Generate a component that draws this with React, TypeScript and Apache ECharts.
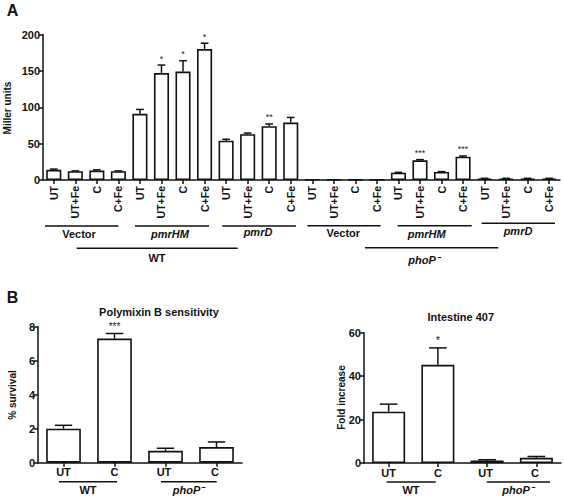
import React, { useEffect, useRef } from "react";
import * as echarts from "echarts";

// Panel A
const catsA = ["UT", "UT+Fe", "C", "C+Fe", "UT", "UT+Fe", "C", "C+Fe", "UT", "UT+Fe", "C", "C+Fe",
  "UT", "UT+Fe", "C", "C+Fe", "UT", "UT+Fe", "C", "C+Fe", "UT", "UT+Fe", "C", "C+Fe"];
const valuesA = [14, 12, 13, 12, 91, 147, 149, 180, 54, 63, 74, 79,
  0.8, 0.5, 0.5, 0.5, 10, 27, 11, 32, 2, 2, 2, 2];
const errA = [1, 0.5, 1, 0.5, 6, 11, 15, 8, 2, 1.5, 3, 7,
  0, 0, 0, 0, 0.5, 1, 0.5, 1, 0.3, 0.3, 0.3, 0.3];
const starsA = ["", "", "", "", "", "*", "*", "*", "", "", "**", "",
  "", "", "", "", "", "***", "", "***", "", "", "", ""];
const ticksA = [0, 50, 100, 150, 200];

// Panel B left: Polymixin B sensitivity
const catsB1 = ["UT", "C", "UT ", "C "];
const valuesB1 = [2.0, 7.3, 0.7, 0.92];
const errB1 = [0.2, 0.3, 0.15, 0.3];
const starsB1 = ["", "***", "", ""];

// Panel B right: Intestine 407
const catsB2 = ["UT", "C", "UT ", "C "];
const valuesB2 = [23.6, 45.2, 1.2, 2.4];
const errB2 = [3.5, 7.8, 0.3, 0.6];
const starsB2 = ["", "*", "", ""];

const FONT = "Liberation Sans, Arial, Helvetica, sans-serif";
const BLACK = "#111";

function errSeries(xi: number, vals: number[], errs: number[], stars: string[], capFrac: number, starSize: number) {
  return {
    type: "custom",
    xAxisIndex: xi,
    yAxisIndex: xi,
    z: 5,
    color: "#222",
    itemStyle: { color: "#222" },
    data: vals.map((v, i) => [i, v, errs[i]]),
    renderItem: (params: any, api: any) => {
      const i = api.value(0);
      const v = api.value(1);
      const e = api.value(2);
      const s = stars[i];
      const base = api.coord([i, v]);
      const top = api.coord([i, v + e]);
      const w = api.size([1, 0])[0] * capFrac / 2;
      const children: any[] = [];
      if (e > 0) {
        children.push({ type: "line", shape: { x1: base[0], y1: base[1], x2: top[0], y2: top[1] }, style: { stroke: BLACK, lineWidth: 1.5 } });
        children.push({ type: "line", shape: { x1: top[0] - w, y1: top[1], x2: top[0] + w, y2: top[1] }, style: { stroke: BLACK, lineWidth: 1.5 } });
      }
      if (s) {
        children.push({
          type: "text",
          style: { text: s, x: top[0], y: top[1] - 2, align: "center", verticalAlign: "bottom", fontSize: starSize, fontFamily: FONT, fill: "#222" },
        });
      }
      return { type: "group", children };
    },
  };
}

function barSeries(xi: number, vals: number[], width: string) {
  return {
    type: "bar",
    xAxisIndex: xi,
    yAxisIndex: xi,
    data: vals,
    barWidth: width,
    itemStyle: { color: "#fff", borderColor: BLACK, borderWidth: 1.6 },
    z: 3,
  };
}

const axisCommon = {
  axisLine: { show: true, lineStyle: { color: BLACK, width: 1.5 } },
  axisTick: { show: true, length: 4, lineStyle: { color: BLACK, width: 1.5 } },
  splitLine: { show: false },
};

function hline(x1: number, x2: number, y: number) {
  return { type: "line", shape: { x1, y1: y, x2, y2: y }, style: { stroke: BLACK, lineWidth: 1.5 } };
}
function label(text: string, x: number, y: number, italic = false, size = 11) {
  return {
    type: "text",
    style: { text, x, y, align: "center", verticalAlign: "middle", fontSize: size, fontWeight: "bold", fontStyle: italic ? "italic" : "normal", fontFamily: FONT, fill: BLACK },
  };
}
function vlabel(text: string, x: number, y: number, size = 10) {
  return {
    type: "text",
    x, y, rotation: Math.PI / 2,
    style: { text, x: 0, y: 0, align: "center", verticalAlign: "middle", fontSize: size, fontWeight: "bold", fontFamily: FONT, fill: BLACK },
  };
}

export default function App() {
  const ref = useRef<HTMLDivElement>(null);
  useEffect(() => {
    document.body.style.margin = "0";
    const chart = echarts.init(ref.current!, null, { renderer: "svg" });
    chart.setOption({
      animation: false,
      backgroundColor: "#fff",
      color: ["#222"],
      textStyle: { fontFamily: FONT },
      grid: [
        { left: 43, top: 34.5, width: 517, height: 145.5 },
        { left: 38, top: 326.7, width: 204, height: 136 },
        { left: 364, top: 332.7, width: 197, height: 130.3 },
      ],
      xAxis: [
        {
          gridIndex: 0, type: "category", data: catsA, ...axisCommon,
          axisTick: { ...axisCommon.axisTick, alignWithLabel: true },
          axisLabel: { rotate: 90, fontSize: 10.5, fontWeight: "bold", color: BLACK, margin: 6, interval: 0, fontFamily: FONT },
        },
        {
          gridIndex: 1, type: "category", data: catsB1, ...axisCommon,
          axisTick: { ...axisCommon.axisTick, alignWithLabel: true },
          axisLabel: { fontSize: 11, fontWeight: "bold", color: BLACK, margin: 4, interval: 0, fontFamily: FONT },
        },
        {
          gridIndex: 2, type: "category", data: catsB2, ...axisCommon,
          axisTick: { ...axisCommon.axisTick, alignWithLabel: true },
          axisLabel: { fontSize: 11, fontWeight: "bold", color: BLACK, margin: 4, interval: 0, fontFamily: FONT },
        },
      ],
      yAxis: [
        {
          gridIndex: 0, type: "value", min: ticksA[0], max: ticksA[ticksA.length - 1], interval: 50, ...axisCommon,
          axisLabel: { fontSize: 11, fontWeight: "bold", color: BLACK, margin: 3, fontFamily: FONT },
        },
        {
          gridIndex: 1, type: "value", min: 0, max: 8, interval: 2, ...axisCommon,
          axisLabel: { fontSize: 11, fontWeight: "bold", color: BLACK, margin: 3, fontFamily: FONT },
        },
        {
          gridIndex: 2, type: "value", min: 0, max: 60, interval: 20, ...axisCommon,
          axisLabel: { fontSize: 11, fontWeight: "bold", color: BLACK, margin: 3, fontFamily: FONT },
        },
      ],
      series: [
        barSeries(0, valuesA, "70%"),
        errSeries(0, valuesA, errA, starsA, 0.36, 9),
        barSeries(1, valuesB1, "68%"),
        errSeries(1, valuesB1, errB1, starsB1, 0.34, 10),
        barSeries(2, valuesB2, "67%"),
        errSeries(2, valuesB2, errB2, starsB2, 0.36, 11),
      ],
      graphic: [
        label("A", 12.5, 10.5, false, 16),
        label("B", 12.5, 297, false, 16),
        vlabel("Miller units", 7.5, 108),
        // panel A groups
        hline(45, 118.3, 226), label("Vector", 79, 233.5),
        hline(135, 209, 226), label("pmrHM", 170, 234, true),
        hline(222.3, 296, 226), label("pmrD", 258, 232, true),
        hline(76.7, 237.7, 248.3), label("WT", 157, 258),
        hline(307.3, 380.7, 225.7), label("Vector", 343.3, 233),
        hline(397.7, 471.7, 225.7), label("pmrHM", 426.7, 234, true),
        hline(481.7, 555, 223.3), label("pmrD", 518, 231, true),
        hline(365, 498.3, 247.7), label("phoP⁻", 424, 259.5, true),
        // panel B left
        label("Polymixin B sensitivity", 159, 311.7, false, 11),
        vlabel("% survival", 12.5, 395),
        hline(59, 117, 481.7), label("WT", 88, 489.5),
        hline(161, 216.7, 481.7), label("phoP⁻", 188.5, 489.5, true),
        // panel B right
        label("Intestine 407", 460.8, 317.3, false, 11),
        vlabel("Fold increase", 341.7, 397.5),
        hline(386.7, 435.7, 482), label("WT", 411, 490),
        hline(486.7, 550, 482), label("phoP⁻", 518, 490, true),
      ],
    });
    return () => chart.dispose();
  }, []);
  return <div ref={ref} style={{ width: 564, height: 498 }} />;
}
